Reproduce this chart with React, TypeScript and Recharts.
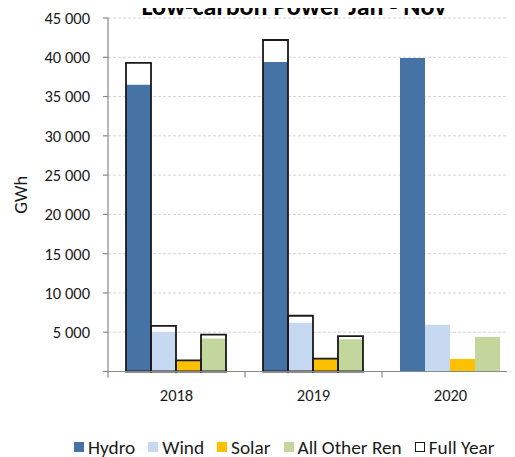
import React from 'react';
import { BarChart, Bar, XAxis, YAxis, CartesianGrid, Legend } from 'recharts';

const years = ['2018', '2019', '2020'];
// Jan - Nov, GWh
const hydro = [36500, 39400, 39900];
const wind = [5050, 6200, 5950];
const solar = [1380, 1600, 1600];
const otherRen = [4200, 4100, 4400];
// full year, GWh (2020 not yet complete)
const hydroFull = [39300, 42200, null];
const windFull = [5800, 7100, null];
const solarFull = [1420, 1650, null];
const otherFull = [4700, 4500, null];

const yTicks = [0, 5000, 10000, 15000, 20000, 25000, 30000, 35000, 40000, 45000];

const FONT = 'Carlito, Calibri, Lato, sans-serif';
const AXIS = '#898989';
const TEXT = '#1a1a1a';
const X_TICK_SIZE = 6;
const X_TICK_MARGIN = 12;

const series = [
  { key: 'hydro', name: 'Hydro', color: '#4673A6' },
  { key: 'wind', name: 'Wind', color: '#C6D9F1' },
  { key: 'solar', name: 'Solar', color: '#FFC000' },
  { key: 'other', name: 'All Other Ren', color: '#C3D69B' },
];

const data = years.map((year, i) => ({
  year,
  hydro: hydro[i],
  wind: wind[i],
  solar: solar[i],
  other: otherRen[i],
  hydroFull: hydroFull[i],
  windFull: windFull[i],
  solarFull: solarFull[i],
  otherFull: otherFull[i],
}));

const formatTick = (v: number) => (v === 0 ? '' : String(v).replace(/\B(?=(\d{3})+(?!\d))/g, ' '));

// category label + tick marks on the category boundaries (Excel style)
function YearTick(props: any) {
  const { x, y, payload, index, visibleTicksCount } = props;
  const half = payload?.offset ?? 0;
  const lineY = y - X_TICK_SIZE - X_TICK_MARGIN;
  const last = index === visibleTicksCount - 1;
  return (
    <g>
      <line x1={x - half} x2={x - half} y1={lineY} y2={lineY + X_TICK_SIZE} stroke={AXIS} strokeWidth={1.2} />
      {last && <line x1={x + half} x2={x + half} y1={lineY} y2={lineY + X_TICK_SIZE} stroke={AXIS} strokeWidth={1.2} />}
      <text x={x} y={y} dy="0.71em" textAnchor="middle" fill={TEXT} fontSize={16.5} fontFamily={FONT}>
        {payload.value}
      </text>
    </g>
  );
}

function LegendContent() {
  const item = (label: string, box: React.CSSProperties) => (
    <span key={label} style={{ display: 'inline-flex', alignItems: 'center', marginRight: 13 }}>
      <span style={{ display: 'inline-block', width: 10, height: 10, marginRight: 4, boxSizing: 'border-box', ...box }} />
      <span>{label}</span>
    </span>
  );
  return (
    <div
      style={{
        display: 'flex',
        alignItems: 'center',
        paddingLeft: 74,
        height: 20,
        fontFamily: FONT,
        fontSize: 19.3,
        color: TEXT,
        whiteSpace: 'nowrap',
      }}
    >
      {series.map((s) => item(s.name, { background: s.color }))}
      {item('Full Year', { background: '#fff', border: '1.5px solid #1a1a1a' })}
    </div>
  );
}

export default function App() {
  return (
    <div style={{ position: 'relative', margin: '-8px 0 0 -8px', width: 515, height: 457, overflow: 'hidden', background: '#fff' }}>
      <div
        style={{
          position: 'absolute',
          left: 294,
          top: -7,
          transform: 'translateX(-50%)',
          fontFamily: FONT,
          fontWeight: 700,
          fontSize: 26,
          lineHeight: 1,
          color: '#000',
          whiteSpace: 'nowrap',
          zIndex: 1,
        }}
      >
        Low-carbon Power Jan - Nov
      </div>
      <BarChart
        width={525}
        height={457}
        data={data}
        margin={{ top: 18, right: 6, bottom: 0, left: 0 }}
        barCategoryGap={18}
        barGap={0}
      >
        <CartesianGrid xAxisId="main" vertical={false} stroke="#d4d4d4" strokeDasharray="3 2" />
        <XAxis
          xAxisId="main"
          dataKey="year"
          height={65.5}
          axisLine={{ stroke: AXIS, strokeWidth: 1.2 }}
          tickLine={false}
          tickSize={X_TICK_SIZE}
          tickMargin={X_TICK_MARGIN}
          tick={<YearTick />}
        />
        <XAxis xAxisId="z-back" dataKey="year" height={0} hide />
        <XAxis xAxisId="z-front" dataKey="year" height={0} hide />
        <YAxis
          width={108}
          domain={[0, 45000]}
          ticks={yTicks}
          interval={0}
          tickFormatter={formatTick}
          tickSize={5}
          tickMargin={13}
          axisLine={{ stroke: AXIS, strokeWidth: 1.2 }}
          tickLine={{ stroke: AXIS, strokeWidth: 1.2 }}
          tick={{ fill: TEXT, fontSize: 16.5, fontFamily: FONT }}
          label={{
            value: 'GWh',
            angle: -90,
            position: 'insideLeft',
            offset: 20,
            style: { textAnchor: 'middle', fill: TEXT, fontSize: 18.5, fontFamily: FONT },
          }}
        />
        {series.map((s) => (
          <Bar key={`back-${s.key}`} xAxisId="z-back" dataKey={`${s.key}Full`} fill="#fff" isAnimationActive={false} legendType="none" />
        ))}
        {series.map((s) => (
          <Bar key={s.key} xAxisId="main" dataKey={s.key} name={s.name} fill={s.color} isAnimationActive={false} />
        ))}
        {series.map((s) => (
          <Bar
            key={`front-${s.key}`}
            xAxisId="z-front"
            dataKey={`${s.key}Full`}
            fill="none"
            stroke="#1a1a1a"
            strokeWidth={1.8}
            isAnimationActive={false}
            legendType="none"
          />
        ))}
        <Legend verticalAlign="bottom" height={20} content={LegendContent} />
      </BarChart>
    </div>
  );
}
